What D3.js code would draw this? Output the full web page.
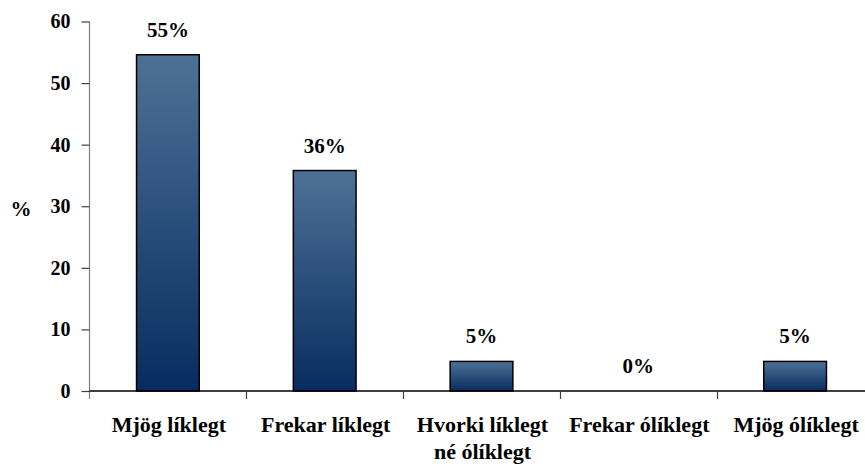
<!DOCTYPE html>
<html>
<head>
<meta charset="utf-8">
<script src="https://cdn.jsdelivr.net/npm/d3@7"></script>
<style>
  body { margin: 0; background: #fff; }
  svg { display: block; }
  text { font-family: "Liberation Serif", "Times New Roman", serif; font-weight: bold; fill: #000; }
</style>
</head>
<body>
<svg id="chart" width="865" height="466"></svg>
<script>
const categories = ['Mjög líklegt', 'Frekar líklegt', 'Hvorki líklegt né ólíklegt', 'Frekar ólíklegt', 'Mjög ólíklegt'];
const categoryLines = [['Mjög líklegt'], ['Frekar líklegt'], ['Hvorki líklegt', 'né ólíklegt'], ['Frekar ólíklegt'], ['Mjög ólíklegt']];
const values = [54.6, 35.8, 4.8, 0, 4.8];
const valueLabels = ['55%', '36%', '5%', '0%', '5%'];
const yTicks = [0, 10, 20, 30, 40, 50, 60];

const svg = d3.select('#chart');

const x = d3.scaleBand()
    .domain(categories)
    .range([89.5, 873.5])
    .paddingInner(0.6)
    .paddingOuter(0.3);

const y = d3.scaleLinear()
    .domain([0, 60])
    .range([391, 21.5]);

// bar gradient, light on top, dark navy at the bottom
const grad = svg.append('defs')
    .append('linearGradient')
    .attr('id', 'barGrad')
    .attr('x1', 0).attr('y1', 0)
    .attr('x2', 0).attr('y2', 1);
grad.append('stop').attr('offset', '0%').attr('stop-color', '#4d7196');
grad.append('stop').attr('offset', '100%').attr('stop-color', '#082c5f');

// y axis
const yAxis = svg.append('g')
    .attr('transform', 'translate(89.5,0)')
    .call(d3.axisLeft(y).tickValues(yTicks).tickSize(8).tickPadding(11));
yAxis.select('.domain').attr('stroke', '#808080').attr('stroke-width', 1.2)
    .attr('d', `M0,${y(60)}V399`);
yAxis.selectAll('.tick line').attr('stroke', '#404040').attr('stroke-width', 1.2);
yAxis.selectAll('.tick text')
    .style('font-size', '20px')
    .style('font-family', '"Liberation Serif", serif')
    .style('font-weight', 'bold')
    .attr('fill', '#000');

svg.append('text')
    .attr('x', 21)
    .attr('y', 216)
    .attr('text-anchor', 'middle')
    .style('font-size', '21px')
    .text('%');

// bars
svg.append('g')
    .selectAll('rect')
    .data(values.map((v, i) => ({v, c: categories[i]})))
    .enter().append('rect')
    .filter(d => d.v > 0)
    .attr('x', d => x(d.c))
    .attr('y', d => y(d.v))
    .attr('width', x.bandwidth())
    .attr('height', d => y(0) - y(d.v))
    .attr('fill', 'url(#barGrad)')
    .attr('stroke', '#000')
    .attr('stroke-width', 1.5);

// x axis line and category boundary ticks
const half = (x.step() - x.bandwidth()) / 2;
svg.append('line')
    .attr('x1', 89.5).attr('x2', 865)
    .attr('y1', y(0)).attr('y2', y(0))
    .attr('stroke', '#000').attr('stroke-width', 1.5);
svg.append('g')
    .selectAll('line')
    .data(categories.slice(1))
    .enter().append('line')
    .attr('x1', d => Math.round(x(d) - half) + 0.5)
    .attr('x2', d => Math.round(x(d) - half) + 0.5)
    .attr('y1', y(0)).attr('y2', y(0) + 8)
    .attr('stroke', '#404040').attr('stroke-width', 1.2);

// value labels
svg.append('g')
    .selectAll('text')
    .data(values)
    .enter().append('text')
    .attr('x', (d, i) => x(categories[i]) + x.bandwidth() / 2)
    .attr('y', d => y(d) - 18)
    .attr('text-anchor', 'middle')
    .style('font-size', '21px')
    .text((d, i) => valueLabels[i]);

// category labels
const catG = svg.append('g')
    .selectAll('text')
    .data(categoryLines)
    .enter().append('text')
    .attr('x', (d, i) => x(categories[i]) + x.bandwidth() / 2 + 1)
    .attr('y', 432)
    .attr('text-anchor', 'middle')
    .style('font-size', '22px');
catG.selectAll('tspan')
    .data(d => d)
    .enter().append('tspan')
    .attr('x', function() { return this.parentNode.getAttribute('x'); })
    .attr('dy', (d, i) => i === 0 ? 0 : 27)
    .text(d => d);
</script>
</body>
</html>
